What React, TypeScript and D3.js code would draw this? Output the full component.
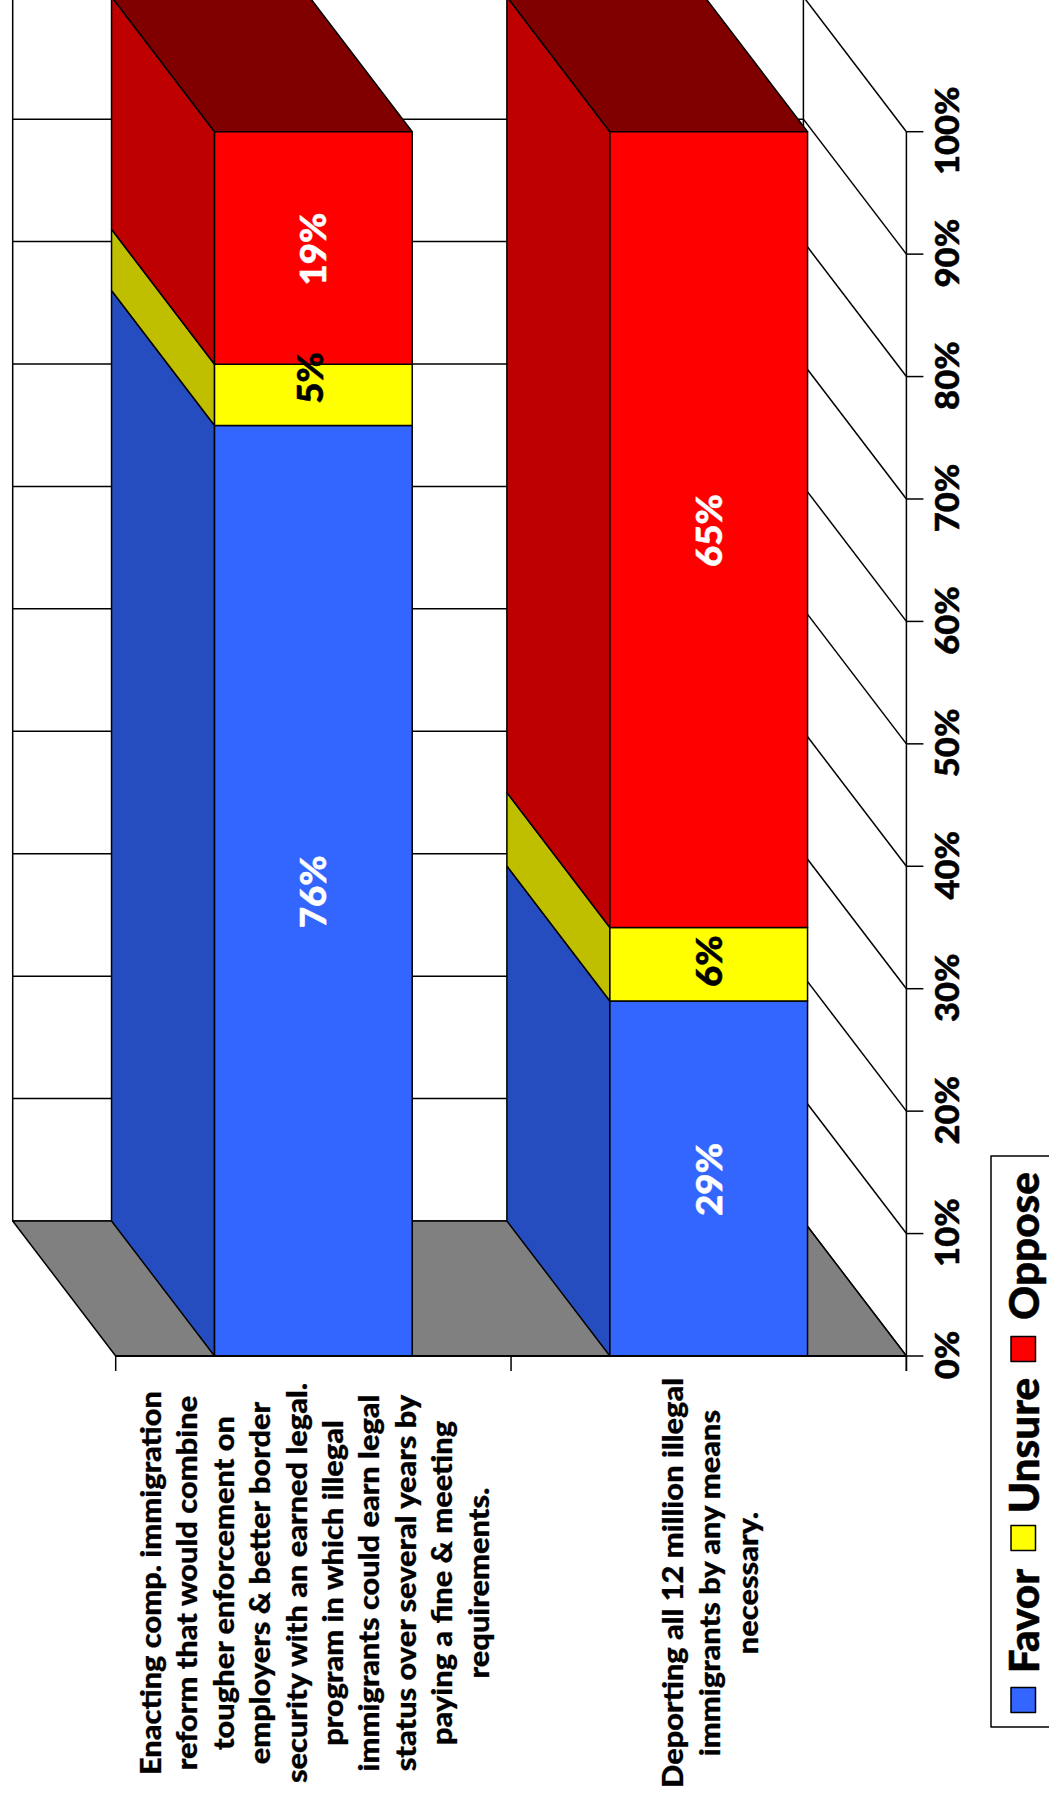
import React from "react";
import * as d3 from "d3";

const width = 1049;
const height = 1803;

const categories = ["enact", "deport"];
const favor = [76, 29];
const unsure = [5, 6];
const oppose = [19, 65];
const seriesNames = ["Favor", "Unsure", "Oppose"];
const frontColors = ["#3366FF", "#FFFF00", "#FF0000"];
const sideColors = ["#264DBF", "#BFBF00", "#BF0000"];
const labelColors = ["#FFFFFF", "#000000", "#FFFFFF"];
const topColor = "#800000";
const ticks = [0, 10, 20, 30, 40, 50, 60, 70, 80, 90, 100];
const categoryLines = [
  [
    "Enacting comp. immigration",
    "reform that would combine",
    "tougher enforcement on",
    "employers & better border",
    "security with an earned legal.",
    "program in which illegal",
    "immigrants could earn legal",
    "status over several years by",
    "paying a fine & meeting",
    "requirements.",
  ],
  ["Deporting all 12 million illegal", "immigrants by any means", "necessary."],
];

const FONT = "Lato, 'Open Sans', sans-serif";
const DX = -103;
const DY = -135;

const y = d3.scaleLinear().domain([0, 100]).range([1356, 131.7]);
const xBand = d3.scaleBand<string>().domain(categories).range([115.7, 906.4]).paddingInner(0).paddingOuter(0);

const pts = (a: [number, number][]) => a.map((p) => p.join(",")).join(" ");

function VText(props: { x: number; y: number; size: number; fill?: string; children: React.ReactNode; sx?: number; heavy?: number }) {
  const { x, y: yy, size, fill = "#000", children, sx = 1, heavy = 0.5 } = props;
  return (
    <text
      transform={`translate(${x},${yy}) rotate(-90) scale(${sx},1)`}
      textAnchor="middle"
      dominantBaseline="central"
      fontFamily={FONT}
      fontWeight={900}
      fontSize={size}
      fill={fill}
      stroke={fill}
      strokeWidth={heavy}
    >
      {children}
    </text>
  );
}

export default function App() {
  const x0 = xBand.range()[0];
  const x1 = xBand.range()[1];
  const series = [favor, unsure, oppose];
  const bw = xBand.bandwidth();
  const barW = bw / 2;
  const stroke = { stroke: "#000", strokeWidth: 1.5, strokeLinejoin: "round" as const };

  const nudge = (si: number, ci: number) => (si === 1 ? (ci === 0 ? -17 : -3) : 1);

  return (
    <svg width={width} height={height} style={{ position: "absolute", left: 0, top: 0, display: "block", background: "#fff" }}>
      {/* back wall */}
      <line x1={x0 + DX} x2={x0 + DX} y1={0} y2={y(0) + DY} {...stroke} />
      <line x1={x1 + DX} x2={x1 + DX} y1={0} y2={y(0) + DY} {...stroke} />
      {ticks.map((t) => (
        <line key={t} x1={x0 + DX} x2={x1 + DX} y1={y(t) + DY} y2={y(t) + DY} {...stroke} />
      ))}
      {/* side wall lines */}
      {ticks.map((t) => (
        <line key={t} x1={x1} x2={x1 + DX} y1={y(t)} y2={y(t) + DY} stroke="#000" strokeWidth={1.5} />
      ))}
      {/* floor */}
      <polygon
        points={pts([
          [x0, y(0)],
          [x1, y(0)],
          [x1 + DX, y(0) + DY],
          [x0 + DX, y(0) + DY],
        ])}
        fill="#808080"
        {...stroke}
      />
      {/* bars */}
      {categories.map((c, ci) => {
        const left = (xBand(c) as number) + bw / 4;
        const right = left + barW;
        let acc = 0;
        const segs = series.map((s, si) => {
          const a = acc;
          acc += s[ci];
          return { si, a, b: acc };
        });
        return (
          <g key={c}>
            {segs.map(({ si, a, b }) => (
              <polygon
                key={"s" + si}
                points={pts([
                  [left, y(a)],
                  [left, y(b)],
                  [left + DX, y(b) + DY],
                  [left + DX, y(a) + DY],
                ])}
                fill={sideColors[si]}
                {...stroke}
              />
            ))}
            <polygon
              points={pts([
                [left, y(100)],
                [right, y(100)],
                [right + DX, y(100) + DY],
                [left + DX, y(100) + DY],
              ])}
              fill={topColor}
              {...stroke}
            />
            {segs.map(({ si, a, b }) => (
              <rect
                key={"f" + si}
                x={left}
                width={barW}
                y={y(b)}
                height={y(a) - y(b)}
                fill={frontColors[si]}
                {...stroke}
              />
            ))}
            {segs.map(({ si, a, b }) => (
              <VText
                key={"l" + si}
                x={(left + right) / 2 - 1 - (si === 1 && ci === 0 ? 3 : 0)}
                y={(y(a) + y(b)) / 2 + nudge(si, ci)}
                size={36}
                sx={1.02}
                fill={labelColors[si]}
              >
                {`${series[si][ci]}%`}
              </VText>
            ))}
          </g>
        );
      })}
      {/* value axis */}
      <line x1={x1} x2={x1} y1={y(100)} y2={y(0) + 15} {...stroke} />
      {ticks.map((t) => (
        <g key={t}>
          <line x1={x1} x2={x1 + 17} y1={y(t)} y2={y(t)} {...stroke} />
          <VText x={947} y={y(t) - 1} size={32} sx={1.08}>{`${t}%`}</VText>
        </g>
      ))}
      {/* category axis */}
      <line x1={x0} x2={x1} y1={y(0)} y2={y(0)} stroke="#000" strokeWidth={2} />
      {d3.range(0, 3).map((i) => (
        <line key={i} x1={x0 + i * bw} x2={x0 + i * bw} y1={y(0)} y2={y(0) + 15} {...stroke} />
      ))}
      {categoryLines.map((lines, ci) =>
        lines.map((ln, li) => (
          <VText key={ci + "-" + li} x={(ci === 0 ? 150 : 672) + li * (ci === 0 ? 36.4 : 37.5)} y={1583} size={28} sx={1.1} heavy={0.3}>
            {ln}
          </VText>
        ))
      )}
      {/* legend */}
      <rect x={991} y={1156} width={90} height={571} fill="#fff" {...stroke} />
      {[1700, 1538, 1349].map((cy, i) => (
        <rect key={i} x={1011} y={cy - 12.5} width={24.5} height={25} fill={frontColors[i]} {...stroke} />
      ))}
      {[1621, 1445.5, 1246].map((cy, i) => (
        <VText key={i} x={1023} y={cy} size={41} sx={1.03}>
          {seriesNames[i]}
        </VText>
      ))}
    </svg>
  );
}
